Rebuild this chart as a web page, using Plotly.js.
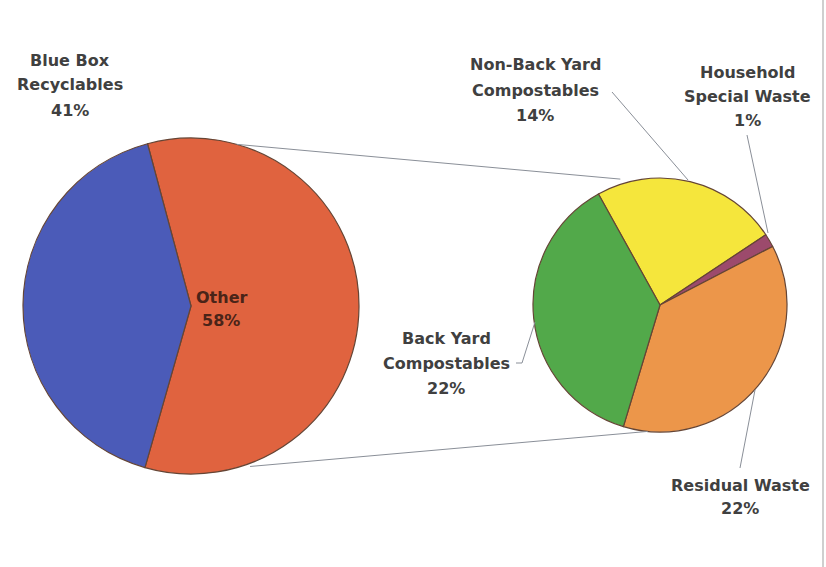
<!DOCTYPE html>
<html>
<head>
<meta charset="utf-8">
<script src="https://cdn.plot.ly/plotly-3.0.1.min.js"></script>
<style>html,body{margin:0;padding:0;background:#fff;}#chart{width:826px;height:567px;}</style>
</head>
<body>
<div id="chart"></div>
<script>
// ---- data ----
const mainLabels = ['Other', 'Blue Box Recyclables'];
const mainValues = [58, 41];
const mainColors = ['#e0633f', '#4b5bb8'];

const subLabels = ['Non-Back Yard Compostables', 'Household Special Waste', 'Residual Waste', 'Back Yard Compostables'];
const subValues = [14, 1, 22, 22];
const subColors = ['#f5e63c', '#9c4a6c', '#ec964a', '#52a94a'];

// label line breaks (text only)
const mainLabelLines = [['Other'], ['Blue Box', 'Recyclables']];
const subLabelLines = [['Non-Back Yard', 'Compostables'], ['Household', 'Special Waste'], ['Residual Waste'], ['Back Yard', 'Compostables']];

// ---- geometry (layout) ----
const W = 826, H = 567;
const main = {cx: 191, cy: 306, r: 168, rot: -15};
const sub = {cx: 660, cy: 305, r: 127, rot: -29};
const px = x => x / W;
const py = y => 1 - y / H;
function domainOf(p) {
  return {x: [px(p.cx - p.r), px(p.cx + p.r)], y: [py(p.cy + p.r), py(p.cy - p.r)]};
}
function pt(p, deg, rr) {
  const a = deg * Math.PI / 180, R = rr || p.r;
  return [p.cx + R * Math.sin(a), p.cy - R * Math.cos(a)];
}

const outline = {color: '#654535', width: 1.2};

const traces = [
  {type: 'pie', labels: mainLabels, values: mainValues, sort: false, direction: 'clockwise',
   rotation: main.rot, marker: {colors: mainColors, line: outline}, textinfo: 'none',
   hoverinfo: 'label+value', domain: domainOf(main), showlegend: false},
  {type: 'pie', labels: subLabels, values: subValues, sort: false, direction: 'clockwise',
   rotation: sub.rot, marker: {colors: subColors, line: outline}, textinfo: 'none',
   hoverinfo: 'label+value', domain: domainOf(sub), showlegend: false}
];

// ---- annotations (labels) ----
const font = {family: 'DejaVu Sans, Arial, sans-serif', size: 16, color: '#404040'};
const annotations = [];
function addLabel(lines, value, x, y0, step, col) {
  const all = lines.concat([value + '%']);
  all.forEach((t, i) => {
    annotations.push({text: '<b>' + t + '</b>', x: px(x), y: py(y0 + i * step), xref: 'paper', yref: 'paper',
      showarrow: false, xanchor: 'center', yanchor: 'middle', font: Object.assign({}, font, col ? {color: col} : {})});
  });
}
// label anchor positions (layout)
const mainLabelPos = [[221, 297, 23, '#4a2418'], [70, 60, 25]];
const subLabelPos = [[535, 65, 25], [747, 72, 24.5], [740, 485, 23], [446, 338, 25]];
mainLabels.forEach((l, i) => addLabel(mainLabelLines[i], mainValues[i], mainLabelPos[i][0], mainLabelPos[i][1], mainLabelPos[i][2], mainLabelPos[i][3]));
subLabels.forEach((l, i) => addLabel(subLabelLines[i], subValues[i], subLabelPos[i][0], subLabelPos[i][1], subLabelPos[i][2]));

// ---- shapes: connectors & leaders ----
const lineStyle = {color: '#8a8f98', width: 1};
function seg(a, b) {
  return {type: 'line', xref: 'paper', yref: 'paper', x0: px(a[0]), y0: py(a[1]), x1: px(b[0]), y1: py(b[1]), line: lineStyle};
}
const shapes = [
  seg(pt(main, 15.8), pt(sub, -17.5, 132)),
  seg(pt(main, 159.8, 171), pt(sub, 185.5)),
  // leaders
  seg([612, 92], [688, 180]),
  seg([747, 135], [768, 233]),
  seg([755, 390], [740, 468]),
  seg([516, 363], [522, 363]),
  seg([522, 363], [535, 322]),
  // right border
  {type: 'line', xref: 'paper', yref: 'paper', x0: px(823), x1: px(823), y0: 0, y1: 1, line: {color: '#cfcfcf', width: 2}}
];

Plotly.newPlot('chart', traces, {
  width: W, height: H, margin: {l: 0, r: 0, t: 0, b: 0},
  paper_bgcolor: '#ffffff', plot_bgcolor: '#ffffff',
  annotations: annotations, shapes: shapes, showlegend: false
}, {displayModeBar: false, staticPlot: true});
</script>
</body>
</html>
